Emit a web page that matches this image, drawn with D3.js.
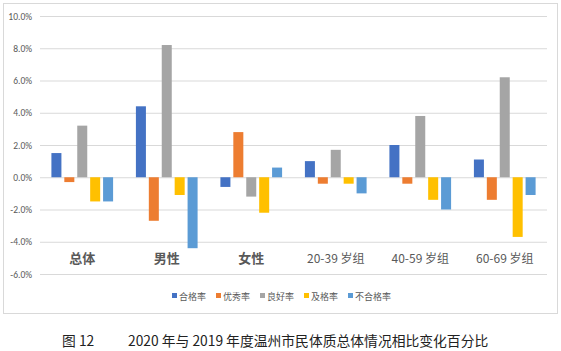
<!DOCTYPE html>
<html>
<head>
<meta charset="utf-8">
<script src="https://cdn.jsdelivr.net/npm/d3@7"></script>
<style>
  body { margin: 0; background: #fff; }
  svg { display: block; }
  .tick-label { font-family: Calibri, "Liberation Sans", "Noto Sans", sans-serif; font-size: 9.5px; fill: #595959; }
  .cat-label { font-family: "Noto Sans CJK SC", sans-serif; fill: #595959; }
  .legend text { font-family: "Noto Sans CJK SC", sans-serif; font-size: 9px; fill: #595959; }
  .caption { font-family: "Noto Sans CJK SC", sans-serif; font-size: 13.8px; fill: #222; }
</style>
</head>
<body>
<div id="chart"></div>
<script>
// categories and series
const categories = ["总体", "男性", "女性", "20-39 岁组", "40-59 岁组", "60-69 岁组"];
const seriesNames = ["合格率", "优秀率", "良好率", "及格率", "不合格率"];
const seriesColors = ["#4472C4", "#ED7D31", "#A5A5A5", "#FFC000", "#5B9BD5"];

// values in %, one array per series (order follows categories)
const hegeRate   = [1.5, 4.4, -0.6, 1.0, 2.0, 1.1];
const youxiuRate = [-0.3, -2.7, 2.8, -0.4, -0.4, -1.4];
const lianghaoRate = [3.2, 8.2, -1.2, 1.7, 3.8, 6.2];
const jigeRate   = [-1.5, -1.1, -2.2, -0.4, -1.4, -3.7];
const buhegeRate = [-1.5, -4.4, 0.6, -1.0, -2.0, -1.1];

const yTicks = [-6, -4, -2, 0, 2, 4, 6, 8, 10];

const seriesValues = [hegeRate, youxiuRate, lianghaoRate, jigeRate, buhegeRate];

const width = 561, height = 351;
const plot = { left: 40, right: 547, top: 16, bottom: 274 };

const svg = d3.select("#chart")
  .append("svg")
  .attr("width", width)
  .attr("height", height);

// chart frame
svg.append("rect")
  .attr("x", 3.5).attr("y", 3.5)
  .attr("width", 554).attr("height", 310)
  .attr("fill", "#fff")
  .attr("stroke", "#d9d9d9");

// scales
const x0 = d3.scaleBand()
  .domain(categories)
  .range([plot.left, plot.right])
  .paddingInner(0.27)
  .paddingOuter(0.135);

const x1 = d3.scaleBand()
  .domain(seriesNames)
  .range([0, x0.bandwidth()])
  .paddingInner(0.225);

const y = d3.scaleLinear()
  .domain([-6, 10])
  .range([plot.bottom, plot.top]);

// gridlines + y labels
const yAxis = d3.axisLeft(y)
  .tickValues(yTicks)
  .tickSize(-(plot.right - plot.left))
  .tickFormat(d => d.toFixed(1) + "%");

const gy = svg.append("g")
  .attr("transform", "translate(" + plot.left + ",0)")
  .call(yAxis);
gy.select(".domain").remove();
gy.selectAll(".tick line").attr("stroke", "#d9d9d9");
gy.selectAll(".tick text")
  .attr("class", "tick-label")
  .attr("x", -8);

// bars
const groups = svg.selectAll(".group")
  .data(categories)
  .enter()
  .append("g")
  .attr("class", "group")
  .attr("transform", d => "translate(" + x0(d) + ",0)");

groups.selectAll("rect")
  .data((d, i) => seriesNames.map((s, j) => ({ series: s, value: seriesValues[j][i], color: seriesColors[j] })))
  .enter()
  .append("rect")
  .attr("x", d => x1(d.series))
  .attr("y", d => y(Math.max(0, d.value)))
  .attr("width", x1.bandwidth())
  .attr("height", d => Math.abs(y(d.value) - y(0)))
  .attr("fill", d => d.color);

// category labels (placed low, inside plot)
svg.selectAll(".cat-label")
  .data(categories)
  .enter()
  .append("text")
  .attr("class", "cat-label")
  .attr("x", d => x0(d) + x0.bandwidth() / 2)
  .attr("y", y(-5.3))
  .attr("text-anchor", "middle")
  .style("font-size", (d, i) => i < 3 ? "13px" : "12px")
  .style("font-weight", (d, i) => i < 3 ? "bold" : "normal")
  .text(d => d);

// legend
const legend = svg.append("g")
  .attr("class", "legend")
  .attr("transform", "translate(172,296)");

const item = legend.selectAll("g")
  .data(seriesNames)
  .enter()
  .append("g")
  .attr("transform", (d, i) => "translate(" + (i * 44) + ",0)");

item.append("rect")
  .attr("x", 0).attr("y", -3)
  .attr("width", 5).attr("height", 5)
  .attr("fill", (d, i) => seriesColors[i]);

item.append("text")
  .attr("x", 7)
  .attr("y", 3.5)
  .text(d => d);

// caption below chart
svg.append("text")
  .attr("class", "caption")
  .attr("x", 62)
  .attr("y", 346)
  .text("图 12");

svg.append("text")
  .attr("class", "caption")
  .attr("x", 128)
  .attr("y", 346)
  .text("2020 年与 2019 年度温州市民体质总体情况相比变化百分比");
</script>
</body>
</html>
